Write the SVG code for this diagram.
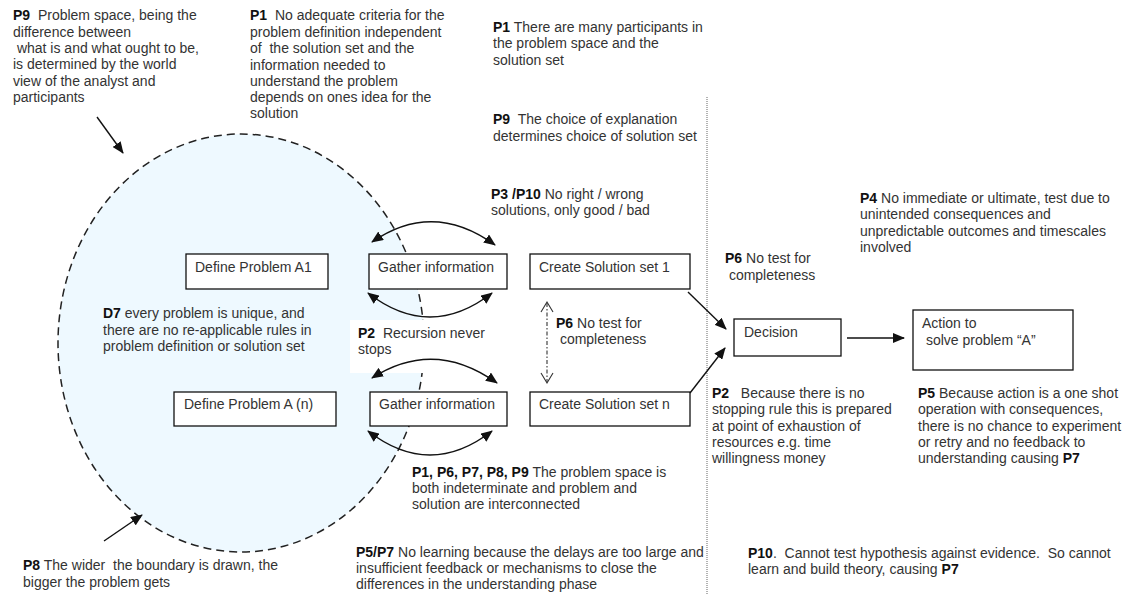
<svg xmlns="http://www.w3.org/2000/svg" width="1133" height="594" viewBox="0 0 1133 594">
  <style>
    text { font-family: "Liberation Sans", Arial, sans-serif; font-size: 14px; fill: #333; white-space: pre; }
    .b { font-weight: bold; fill: #111; }
    .box { fill: #fff; stroke: #111; stroke-width: 1.3; }
    .line { fill: none; stroke: #111; stroke-width: 1.4; }
  </style>
  <defs>
    <marker id="head" viewBox="0 0 12 10" refX="11" refY="5" markerWidth="12" markerHeight="10" markerUnits="userSpaceOnUse" orient="auto-start-reverse">
      <path d="M0,0 L12,5 L0,10 Z" fill="#111"/>
    </marker>
  </defs>

  <rect width="1133" height="594" fill="#fff"/>

  <!-- problem space boundary -->
  <ellipse cx="241" cy="343" rx="183" ry="209" fill="#eef9ff" stroke="#222" stroke-width="1.5" stroke-dasharray="8,5"/>

  <!-- divider between understanding and action -->
  <line x1="707" y1="97" x2="707" y2="594" stroke="#666" stroke-width="1" stroke-dasharray="1,1"/>

  <!-- recursion note (white backing) -->
  <g id="note-p2-recursion">
    <rect x="350" y="320" width="168" height="53" fill="#fff"/>
    <text x="358" y="338"><tspan class="b">P2</tspan>  Recursion never</text>
    <text x="358" y="354">stops</text>
  </g>

  <!-- process nodes -->
  <g id="define-a1">
    <rect class="box" x="186" y="254" width="142" height="35"/>
    <text x="195" y="272">Define Problem A1</text>
  </g>
  <g id="gather-1">
    <rect class="box" x="369" y="254" width="138" height="35"/>
    <text x="378" y="272">Gather information</text>
  </g>
  <g id="solution-1">
    <rect class="box" x="530" y="254" width="160" height="35"/>
    <text x="539" y="272">Create Solution set 1</text>
  </g>
  <g id="define-an">
    <rect class="box" x="174" y="392" width="162" height="34"/>
    <text x="184" y="409">Define Problem A (n)</text>
  </g>
  <g id="gather-n">
    <rect class="box" x="370" y="392" width="137" height="34"/>
    <text x="379" y="409">Gather information</text>
  </g>
  <g id="solution-n">
    <rect class="box" x="530" y="392" width="160" height="34"/>
    <text x="539" y="409">Create Solution set n</text>
  </g>
  <g id="decision">
    <rect class="box" x="734" y="319" width="107" height="37"/>
    <text x="744" y="337">Decision</text>
  </g>
  <g id="action">
    <rect class="box" x="913" y="310" width="160" height="60"/>
    <text x="922" y="328">Action to</text>
    <text x="922" y="345"> solve problem “A”</text>
  </g>

  <!-- connectors -->
  <g id="connectors">
    <line class="line" x1="97" y1="117" x2="123" y2="153" marker-end="url(#head)"/>
    <line class="line" x1="104" y1="541" x2="142" y2="515" marker-end="url(#head)"/>
    <path class="line" d="M372,242 Q433,200 495,245" marker-start="url(#head)" marker-end="url(#head)"/>
    <path class="line" d="M368,293 Q430,341 492,293" marker-start="url(#head)" marker-end="url(#head)"/>
    <path class="line" d="M372,378 Q434,338 497,383" marker-start="url(#head)" marker-end="url(#head)"/>
    <path class="line" d="M368,431 Q430,479 492,431" marker-start="url(#head)" marker-end="url(#head)"/>
    <line class="line" x1="688" y1="292" x2="726" y2="329" marker-end="url(#head)"/>
    <line class="line" x1="690" y1="393" x2="725" y2="348" marker-end="url(#head)"/>
    <line class="line" x1="847" y1="338" x2="904" y2="338" marker-end="url(#head)"/>
    <g stroke="#333" stroke-width="1.1" fill="none">
      <line x1="547" y1="303" x2="547" y2="382" stroke-dasharray="4,2,1.5,2"/>
      <polyline points="541,312 547,302 553,312"/>
      <polyline points="541,373 547,383 553,373"/>
    </g>
  </g>

  <!-- annotations -->
  <g id="note-p9-space">
    <text x="13" y="20"><tspan class="b">P9</tspan>  Problem space, being the</text>
    <text x="13" y="37">difference between</text>
    <text x="13" y="53"> what is and what ought to be,</text>
    <text x="13" y="69">is determined by the world</text>
    <text x="13" y="86">view of the analyst and</text>
    <text x="13" y="102">participants</text>
  </g>
  <g id="note-p1-criteria">
    <text x="250" y="20"><tspan class="b">P1</tspan>  No adequate criteria for the</text>
    <text x="250" y="36.5">problem definition independent</text>
    <text x="250" y="53">of  the solution set and the</text>
    <text x="250" y="69.5">information needed to</text>
    <text x="250" y="86">understand the problem</text>
    <text x="250" y="102">depends on ones idea for the</text>
    <text x="250" y="118">solution</text>
  </g>
  <g id="note-p1-participants">
    <text x="493" y="32"><tspan class="b">P1</tspan> There are many participants in</text>
    <text x="493" y="48">the problem space and the</text>
    <text x="493" y="65">solution set</text>
  </g>
  <g id="note-p9-choice">
    <text x="493" y="124"><tspan class="b">P9</tspan>  The choice of explanation</text>
    <text x="493" y="141">determines choice of solution set</text>
  </g>
  <g id="note-p3-p10">
    <text x="491" y="199"><tspan class="b">P3 /P10</tspan> No right / wrong</text>
    <text x="491" y="215">solutions, only good / bad</text>
  </g>
  <g id="note-p4">
    <text x="860" y="203"><tspan class="b">P4</tspan> No immediate or ultimate, test due to</text>
    <text x="860" y="219">unintended consequences and</text>
    <text x="860" y="236">unpredictable outcomes and timescales</text>
    <text x="860" y="252">involved</text>
  </g>
  <g id="note-p6-decision">
    <text x="725" y="263"><tspan class="b">P6</tspan> No test for</text>
    <text x="725" y="280"> completeness</text>
  </g>
  <g id="note-d7">
    <text x="103" y="318"><tspan class="b">D7</tspan> every problem is unique, and</text>
    <text x="103" y="335">there are no re-applicable rules in</text>
    <text x="103" y="351">problem definition or solution set</text>
  </g>
  <g id="note-p6-solutions">
    <text x="556" y="328"><tspan class="b">P6</tspan> No test for</text>
    <text x="556" y="344"> completeness</text>
  </g>
  <g id="note-p2-stopping">
    <text x="712" y="398"><tspan class="b">P2</tspan>   Because there is no</text>
    <text x="712" y="414">stopping rule this is prepared</text>
    <text x="712" y="431">at point of exhaustion of</text>
    <text x="712" y="447">resources e.g. time</text>
    <text x="712" y="463">willingness money</text>
  </g>
  <g id="note-p5">
    <text x="918" y="398"><tspan class="b">P5</tspan> Because action is a one shot</text>
    <text x="918" y="414">operation with consequences,</text>
    <text x="918" y="431">there is no chance to experiment</text>
    <text x="918" y="447">or retry and no feedback to</text>
    <text x="918" y="463">understanding causing <tspan class="b">P7</tspan></text>
  </g>
  <g id="note-interconnected">
    <text x="412" y="477"><tspan class="b">P1, P6, P7, P8, P9</tspan> The problem space is</text>
    <text x="412" y="493">both indeterminate and problem and</text>
    <text x="412" y="509">solution are interconnected</text>
  </g>
  <g id="note-p5-p7">
    <text x="356" y="557"><tspan class="b">P5/P7</tspan> No learning because the delays are too large and</text>
    <text x="356" y="573">insufficient feedback or mechanisms to close the</text>
    <text x="356" y="589">differences in the understanding phase</text>
  </g>
  <g id="note-p8">
    <text x="23" y="570"><tspan class="b">P8</tspan> The wider  the boundary is drawn, the</text>
    <text x="23" y="587">bigger the problem gets</text>
  </g>
  <g id="note-p10">
    <text x="748" y="558"><tspan class="b">P10</tspan>.  Cannot test hypothesis against evidence.  So cannot</text>
    <text x="748" y="574">learn and build theory, causing <tspan class="b">P7</tspan></text>
  </g>
</svg>
